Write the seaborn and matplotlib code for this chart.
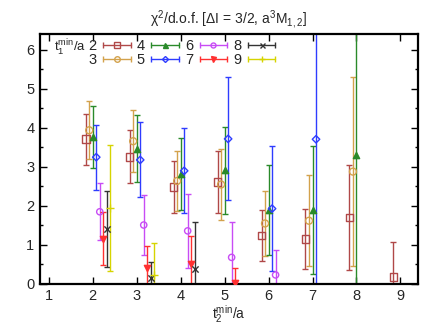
import numpy as np
import pandas as pd
import matplotlib
matplotlib.use("Agg")
import matplotlib.pyplot as plt
import seaborn as sns
from matplotlib.lines import Line2D
from matplotlib.legend_handler import HandlerBase
from matplotlib.ticker import MultipleLocator

# ---- data ----
t1_values = [2, 3, 4, 5, 6, 7, 8, 9]

t2_s2 = [2, 3, 4, 5, 6, 7, 8, 9]
chi_s2 = [3.70, 3.25, 2.48, 2.61, 1.23, 1.14, 1.69, 0.17]
err_s2 = [0.66, 0.68, 0.67, 0.80, 0.66, 0.78, 1.35, 0.90]

t2_s3 = [2, 3, 4, 5, 6, 7, 8]
chi_s3 = [3.93, 3.65, 2.63, 2.54, 1.54, 1.61, 2.87]
err_s3 = [0.74, 0.79, 0.78, 0.91, 0.84, 1.17, 2.42]

t2_s4 = [2, 3, 4, 5, 6, 7, 8]
chi_s4 = [3.76, 3.46, 2.81, 2.90, 1.88, 1.88, 3.29]
err_s4 = [0.79, 0.86, 0.92, 1.12, 1.15, 1.64, 3.60]

t2_s5 = [2, 3, 4, 5, 6, 7]
chi_s5 = [3.24, 3.17, 2.89, 3.71, 1.92, 3.70]
err_s5 = [0.83, 0.96, 1.09, 1.58, 1.60, 4.00]

t2_s6 = [2, 3, 4, 5, 6]
chi_s6 = [1.84, 1.50, 1.35, 0.67, 0.22]
err_s6 = [0.73, 0.77, 0.94, 0.91, 0.65]

t2_s7 = [2, 3, 4, 5]
chi_s7 = [1.15, 0.41, 0.50, 0.02]
err_s7 = [0.68, 0.54, 0.73, 0.37]

t2_s8 = [2, 3, 4]
chi_s8 = [1.39, 0.13, 0.36]
err_s8 = [0.97, 0.43, 1.22]

t2_s9 = [2, 3]
chi_s9 = [1.93, 0.22]
err_s9 = [1.62, 0.81]

x_ticks = [1, 2, 3, 4, 5, 6, 7, 8, 9]
y_ticks = [0, 1, 2, 3, 4, 5, 6]

title = "χ$^2$/d.o.f. [ΔI = 3/2, a$^3$M$_{1,2}$]"
xlabel = "t$_2^{min}$/a"
legend_title = "t$_1^{min}$/a"

series = {
    2: (t2_s2, chi_s2, err_s2),
    3: (t2_s3, chi_s3, err_s3),
    4: (t2_s4, chi_s4, err_s4),
    5: (t2_s5, chi_s5, err_s5),
    6: (t2_s6, chi_s6, err_s6),
    7: (t2_s7, chi_s7, err_s7),
    8: (t2_s8, chi_s8, err_s8),
    9: (t2_s9, chi_s9, err_s9),
}

styles = {
    2: dict(color="#b04848", marker="s", filled=False, ms=5.5),
    3: dict(color="#d3a24c", marker="o", filled=False, ms=5.0),
    4: dict(color="#2a8a2a", marker="^", filled=True, ms=4.5),
    5: dict(color="#2e3cff", marker="D", filled=False, ms=3.8),
    6: dict(color="#c84cf5", marker="o", filled=False, ms=4.5),
    7: dict(color="#ff3030", marker="v", filled=True, ms=4.5),
    8: dict(color="#333333", marker="x", filled=False, ms=4.5),
    9: dict(color="#d6d400", marker="+", filled=False, ms=6.0),
}

rows = []
for t1, (t2s, chis, errs) in series.items():
    for t2, c, e in zip(t2s, chis, errs):
        rows.append(dict(t1=t1, t2=t2, chi=c, err=e))
df = pd.DataFrame(rows)
df["xpos"] = df["t2"] + (df["t1"] - 4) * 0.08

sns.set_style("ticks")
plt.rcParams["font.family"] = ["Liberation Sans", "DejaVu Sans"]
plt.rcParams["mathtext.default"] = "regular"

FS = 10

fig = plt.figure(figsize=(4.36, 3.27), dpi=100)
ax = fig.add_axes([40 / 436, 1 - 283.5 / 327, 378 / 436, (283.5 - 34) / 327])

for t1 in t1_values:
    d = df[df["t1"] == t1]
    st = styles[t1]
    ax.errorbar(d["xpos"], d["chi"], yerr=d["err"], fmt="none",
                ecolor=st["color"], elinewidth=1.0, capsize=2.2, capthick=1.0,
                zorder=2)
    fc = st["color"] if st["filled"] else "none"
    if st["marker"] in ("x", "+"):
        sns.scatterplot(x=d["xpos"], y=d["chi"], ax=ax, marker=st["marker"],
                        s=st["ms"] ** 2, color=st["color"], linewidth=1.0,
                        zorder=3, legend=False)
    else:
        sns.scatterplot(x=d["xpos"], y=d["chi"], ax=ax, marker=st["marker"],
                        s=st["ms"] ** 2, facecolor=fc, edgecolor=st["color"],
                        linewidth=1.0, zorder=3, legend=False)

ax.set_xlim(0.8, 9.4)
ax.set_ylim(0, 6.4)
ax.set_xticks(x_ticks)
ax.set_yticks(y_ticks)
ax.yaxis.set_minor_locator(MultipleLocator(0.5))
ax.tick_params(which="both", direction="in", top=True, right=True,
               labelsize=FS + 0.5, width=1.0, color="black", pad=4)
ax.tick_params(which="major", length=5)
ax.tick_params(which="minor", length=2.5)
for sp in ax.spines.values():
    sp.set_linewidth(1.6)
    sp.set_color("black")
ax.set_xlabel(xlabel, fontsize=FS, labelpad=0)
ax.set_ylabel("")
ax.set_title(title, fontsize=FS, pad=7)


class HBarHandler(HandlerBase):
    def create_artists(self, legend, orig_handle, xdescent, ydescent,
                       width, height, fontsize, trans):
        st = orig_handle.style
        y = height / 2 - ydescent
        x0, x1 = -xdescent, width - xdescent
        line = Line2D([x0, x1], [y, y], color=st["color"], lw=1.0)
        caps = Line2D([x0, x1], [y, y], linestyle="none", marker="|",
                      ms=4.5, mew=1.0, color=st["color"])
        fc = st["color"] if st["filled"] else "none"
        mk = Line2D([(x0 + x1) / 2], [y], linestyle="none", marker=st["marker"],
                    ms=st["ms"] * 0.8, mfc=fc, mec=st["color"], mew=1.0,
                    color=st["color"])
        arts = [line, caps, mk]
        for a in arts:
            a.set_transform(trans)
        return arts


handles = []
for t1 in t1_values:
    h = Line2D([], [], color=styles[t1]["color"])
    h.style = styles[t1]
    handles.append(h)

leg = ax.legend(handles, [str(t) for t in t1_values], ncol=4,
                loc="upper left", bbox_to_anchor=(0.128, 0.978),
                frameon=False, markerfirst=False, fontsize=FS + 0.5,
                handlelength=1.9, handletextpad=0.45, columnspacing=0.4,
                labelspacing=0.0, borderpad=0.0, borderaxespad=0.0,
                handleheight=0.6,
                handler_map={Line2D: HBarHandler()})
ax.text(0.036, 0.945, legend_title, transform=ax.transAxes, fontsize=FS - 0.5,
        ha="left", va="center")

fig.savefig("out.png", dpi=100, facecolor="white")
